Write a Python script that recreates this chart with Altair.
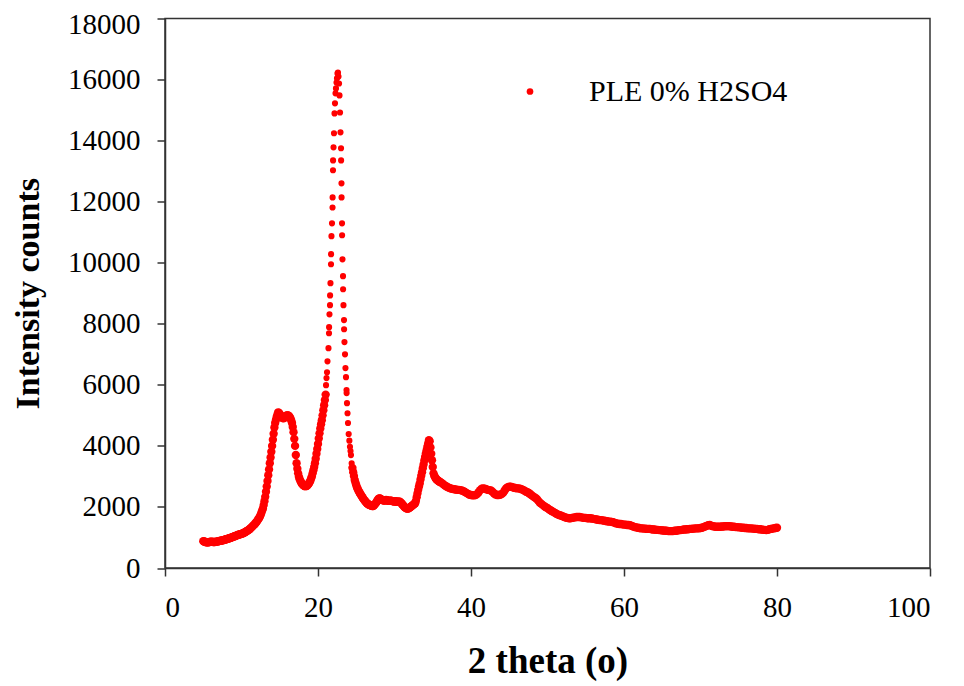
import altair as alt
import pandas as pd

SERIES = "PLE 0% H2SO4"
X_TICKS = [0, 20, 40, 60, 80, 100]
Y_TICKS = [0, 2000, 4000, 6000, 8000, 10000, 12000, 14000, 16000, 18000]

# 5.0 .. 21.0, step 0.1
seg1_start, seg1_step = 5.0, 0.1
seg1_y = [880, 870, 860, 850, 845, 840, 840, 845, 850, 855,
          860, 860, 855, 850, 850, 850, 855, 860, 865, 870,
          880, 885, 890, 895, 900, 905, 910, 920, 925, 935,
          940, 950, 955, 965, 975, 980, 990, 1000, 1010, 1020,
          1030, 1040, 1050, 1060, 1070, 1080, 1090, 1095, 1105, 1110,
          1120, 1130, 1140, 1150, 1165, 1180, 1195, 1210, 1225, 1240,
          1260, 1280, 1305, 1330, 1355, 1380, 1405, 1430, 1460, 1490,
          1520, 1560, 1600, 1640, 1680, 1740, 1810, 1880, 1950, 2060,
          2190, 2330, 2500, 2670, 2850, 3040, 3230, 3430, 3620, 3810,
          4000, 4200, 4400, 4600, 4750, 4850, 4950, 5030, 5100, 5080,
          5050, 5000, 4950, 4930, 4910, 4900, 4920, 4950, 4980, 5000,
          5000, 5000, 4980, 4950, 4900, 4830, 4750, 4620, 4450, 4230,
          4000, 3700, 3430, 3250, 3100, 2990, 2910, 2850, 2800, 2760,
          2730, 2710, 2690, 2680, 2680, 2690, 2700, 2730, 2770, 2810,
          2860, 2930, 3000, 3100, 3200, 3310, 3430, 3580, 3740, 3900,
          4060, 4240, 4410, 4570, 4710, 4840, 5000, 5170, 5330, 5500,
          5680]

# main reflection, individual points
peak_x = [21.05, 21.11, 21.18, 21.24, 21.37, 21.44, 21.45, 21.50, 21.57, 21.58,
          21.63, 21.70, 21.71, 21.76, 21.83, 21.90, 21.91, 21.96, 21.97, 22.03,
          22.09, 22.16, 22.22, 22.29, 22.35, 22.42, 22.48, 22.55,
          22.61, 22.68, 22.75, 22.81, 22.88, 22.94, 23.01, 23.02, 23.07, 23.08,
          23.14, 23.15, 23.20, 23.27, 23.28, 23.33, 23.40, 23.41, 23.46, 23.53,
          23.59, 23.66, 23.73, 23.74, 23.79, 23.86, 23.92, 24.01, 24.10, 24.18,
          24.25, 24.31, 24.40]
peak_y = [5990, 6220, 6410, 6770, 7200, 7690, 7890, 8310, 8610, 8930,
          9330, 9950, 10280, 10870, 11290, 11810, 12140, 13030, 13350, 13780,
          14240, 14890, 15220, 15550, 15710, 15900, 16040, 16200,
          16230, 16100, 15870, 15480, 14920, 14270, 13750, 13350, 12600, 12140,
          11290, 10900, 10110, 9560, 9130, 8610, 8120, 7820, 7400, 7000,
          6550, 6250, 5830, 5730, 5400, 5070, 4750, 4390, 4170, 3970,
          3830, 3700, 3430]

# 24.5 .. 36.0, step 0.1
seg3_start, seg3_step = 24.5, 0.1
seg3_y = [3280, 3140, 3010, 2880, 2790, 2710, 2640, 2580, 2530, 2480,
          2440, 2400, 2360, 2320, 2280, 2240, 2210, 2180, 2150, 2120,
          2100, 2080, 2070, 2060, 2050, 2040, 2030, 2030, 2050, 2080,
          2110, 2140, 2180, 2230, 2260, 2280, 2280, 2260, 2240, 2230,
          2220, 2210, 2210, 2220, 2230, 2220, 2210, 2200, 2200, 2200,
          2210, 2200, 2190, 2190, 2180, 2180, 2190, 2180, 2170, 2170,
          2170, 2170, 2170, 2150, 2120, 2090, 2060, 2030, 2000, 1980,
          1960, 1950, 1950, 1950, 1960, 1980, 2000, 2020, 2040, 2060,
          2080, 2100, 2120, 2200, 2320, 2440, 2560, 2670, 2770, 2900,
          3020, 3140, 3270, 3390, 3520, 3640, 3750, 3860, 3970, 4080,
          4190, 4150, 3950, 3740, 3530, 3310, 3100, 3020, 2970, 2930,
          2900, 2880, 2860, 2840, 2830, 2810]

# 36.2 .. 80.0, step 0.2
seg4_start, seg4_step = 36.2, 0.2
seg4_y = [2780, 2740, 2700, 2670, 2640, 2620, 2600, 2590, 2580, 2570,
          2560, 2560, 2550, 2540, 2520, 2490, 2460, 2430, 2400, 2390,
          2380, 2380, 2390, 2420, 2480, 2550, 2600, 2610, 2600, 2580,
          2560, 2550, 2540, 2500, 2450, 2410, 2390, 2390, 2400, 2420,
          2460, 2540, 2610, 2650, 2660, 2660, 2650, 2630, 2620, 2610,
          2610, 2600, 2580, 2560, 2530, 2500, 2480, 2450, 2410, 2370,
          2330, 2300, 2260, 2200, 2140, 2100, 2060, 2020, 1990, 1960,
          1920, 1890, 1860, 1830, 1800, 1770, 1750, 1730, 1710, 1690,
          1670, 1650, 1640, 1630, 1630, 1640, 1650, 1660, 1670, 1670,
          1670, 1660, 1650, 1640, 1640, 1630, 1630, 1630, 1620, 1610,
          1600, 1590, 1580, 1570, 1570, 1560, 1550, 1540, 1530, 1520,
          1520, 1510, 1500, 1480, 1460, 1450, 1440, 1440, 1430, 1420,
          1420, 1410, 1410, 1400, 1380, 1360, 1340, 1330, 1320, 1310,
          1300, 1300, 1290, 1290, 1280, 1280, 1280, 1270, 1260, 1260,
          1250, 1250, 1240, 1240, 1230, 1230, 1220, 1220, 1210, 1210,
          1210, 1210, 1220, 1220, 1230, 1240, 1240, 1250, 1260, 1260,
          1270, 1270, 1280, 1280, 1290, 1290, 1300, 1300, 1300, 1310,
          1320, 1340, 1360, 1380, 1400, 1410, 1390, 1370, 1360, 1350,
          1350, 1350, 1350, 1360, 1360, 1370, 1370, 1370, 1370, 1360,
          1350, 1350, 1340, 1340, 1330, 1330, 1320, 1320, 1310, 1310,
          1300, 1300, 1300, 1290, 1290, 1280, 1280, 1270, 1270, 1260,
          1250, 1250, 1240, 1250, 1270, 1280, 1290, 1300, 1310, 1320]


def grid(start, step, ys):
    return [round(start + i * step, 2) for i in range(len(ys))]


rows = []
for xs, ys, part in [
    (grid(seg1_start, seg1_step, seg1_y), seg1_y, "band"),
    (peak_x, peak_y, "peak"),
    (grid(seg3_start, seg3_step, seg3_y), seg3_y, "band"),
    (grid(seg4_start, seg4_step, seg4_y), seg4_y, "band"),
]:
    for xv, yv in zip(xs, ys):
        rows.append({"theta": xv, "counts": yv, "part": part, "series": SERIES})
df = pd.DataFrame(rows)

FONT = "Liberation Serif"
AXIS_COLOR = "#333333"

x_enc = alt.X("theta:Q",
              scale=alt.Scale(domain=[0, 100], nice=False, zero=False),
              axis=alt.Axis(values=X_TICKS, title="2 theta (o)", format="d",
                            labelPadding=17, titlePadding=21, titleFontSize=37))
y_enc = alt.Y("counts:Q",
              scale=alt.Scale(domain=[0, 18000], nice=False),
              axis=alt.Axis(values=Y_TICKS, title="Intensity counts", format="d",
                            labelPadding=17, titlePadding=22, titleFontSize=34,
                            labelOffset={"condition": {"test": "datum.value == 18000",
                                                       "value": 6},
                                         "value": 0}))
color_enc = alt.Color("series:N",
                      scale=alt.Scale(domain=[SERIES], range=["#ff0000"]),
                      legend=alt.Legend(orient="none", legendX=350, legendY=58,
                                        title=None, symbolType="circle",
                                        symbolSize=45, labelFont=FONT,
                                        labelFontSize=30, labelColor="black",
                                        labelOffset=44, labelLimit=500,
                                        padding=0))

base = alt.Chart(df).encode(x=x_enc, y=y_enc, color=color_enc)
band = base.transform_filter(alt.datum.part == "band").mark_circle(size=70, opacity=1)
peak = base.transform_filter(alt.datum.part == "peak").mark_circle(size=38, opacity=1)

chart = (
    alt.layer(band, peak)
    .properties(width=765, height=549.5,
                autosize=alt.AutoSizeParams(type="none"),
                padding={"left": 157, "top": 10.5, "right": 26, "bottom": 114})
    .configure_view(stroke=AXIS_COLOR, strokeWidth=1.5)
    .configure_axis(grid=False, domainColor=AXIS_COLOR, domainWidth=1.5,
                    tickColor=AXIS_COLOR, tickWidth=1.5, tickSize=8,
                    labelFont=FONT, labelFontSize=29, labelColor="black",
                    titleFont=FONT, titleFontWeight="bold",
                    titleColor="black")
)

chart.save("out.html", embed_options={"renderer": "svg", "actions": False})
